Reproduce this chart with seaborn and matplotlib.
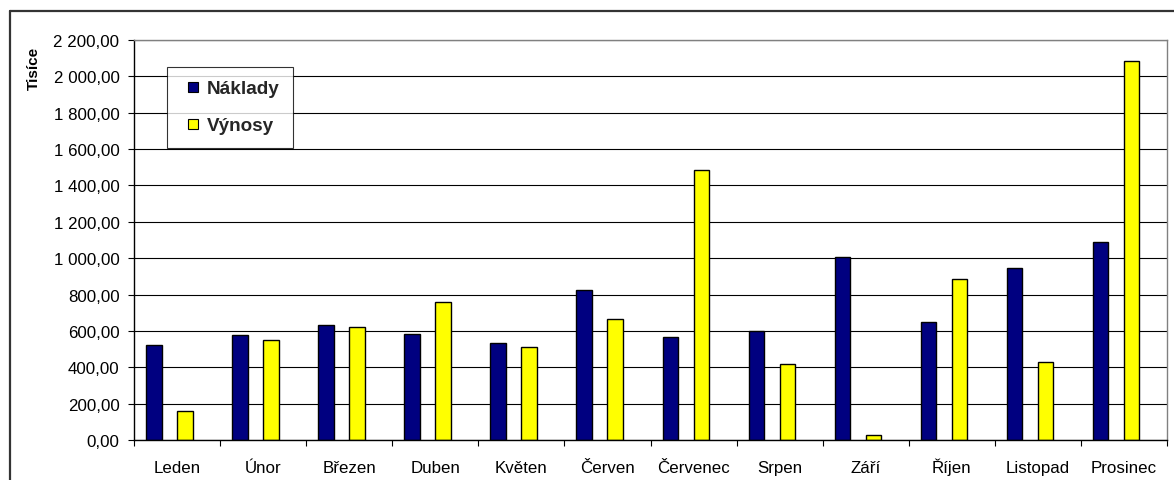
import matplotlib
matplotlib.use("Agg")
import matplotlib.pyplot as plt
from matplotlib.lines import Line2D
from matplotlib.ticker import FuncFormatter, FixedLocator, NullFormatter
import seaborn as sns
import pandas as pd
import numpy as np

months = ["Leden", "Únor", "Březen", "Duben", "Květen", "Červen",
          "Červenec", "Srpen", "Září", "Říjen", "Listopad", "Prosinec"]
naklady = [525, 577, 634, 582, 534, 825, 566, 602, 1009, 649, 947, 1091]
vynosy = [162, 551, 621, 761, 514, 665, 1486, 417, 30, 888, 431, 2085]
series_names = ["Náklady", "Výnosy"]
colors = {"Náklady": "#000080", "Výnosy": "#FFFF00"}
y_label = "Tisíce"
y_ticks = list(range(0, 2201, 200))

df = pd.DataFrame({
    "Měsíc": months * 2,
    "Řada": ["Náklady"] * len(months) + ["Výnosy"] * len(months),
    "Hodnota": naklady + vynosy,
})

sns.set_theme(style="white")
plt.rcParams["font.family"] = ["Liberation Sans", "DejaVu Sans"]

fig = plt.figure(figsize=(11.74, 4.81), dpi=100)
ax = fig.add_axes([134/1174, 1 - 441/481, (1167 - 134)/1174, 400/481])

# Two empty slots keep the spreadsheet-style bar placement (4 slots per category)
hue_order = ["Náklady", "_e1", "Výnosy", "_e2"]
pal = {"Náklady": colors["Náklady"], "_e1": "white", "Výnosy": colors["Výnosy"], "_e2": "white"}
sns.barplot(data=df, x="Měsíc", y="Hodnota", hue="Řada", order=months,
            hue_order=hue_order, palette=pal, width=0.72, gap=0, errorbar=None,
            edgecolor="black", linewidth=1.0, saturation=1, legend=False, ax=ax)

ax.set_ylim(0, 2200)
ax.set_xlim(-0.5, len(months) - 0.5)
ax.yaxis.set_major_locator(FixedLocator(y_ticks))
ax.yaxis.set_major_formatter(FuncFormatter(
    lambda v, p: f"{v:,.2f}".replace(",", " ").replace(".", ",")))
ax.grid(axis="y", color="black", linewidth=0.8)
ax.set_axisbelow(True)

# x ticks at category boundaries, labels at centres
ax.xaxis.set_major_locator(FixedLocator(np.arange(-0.5, len(months), 1.0)))
ax.xaxis.set_major_formatter(NullFormatter())
ax.xaxis.set_minor_locator(FixedLocator(np.arange(len(months))))
ax.set_xticklabels(months, minor=True)
ax.tick_params(axis="x", which="major", direction="out", length=4.5, width=0.8,
               color="black", bottom=True)
ax.tick_params(axis="x", which="minor", length=0, pad=23, labelsize=12.2,
               labelcolor="black")
for lbl in ax.get_xticklabels(minor=True):
    lbl.set_verticalalignment("baseline")
ax.tick_params(axis="y", which="major", direction="out", length=4.5, width=0.8,
               color="black", left=True, pad=6, labelsize=12.2, labelcolor="black")

ax.set_xlabel("")
ax.set_ylabel(y_label, fontsize=11, fontweight="bold", color="black")
ax.yaxis.set_label_coords(-0.09, 0.932)

for s in ["left", "bottom"]:
    ax.spines[s].set_color("black")
    ax.spines[s].set_linewidth(1.0)
for s in ["top", "right"]:
    ax.spines[s].set_visible(True)
    ax.spines[s].set_color("#808080")
    ax.spines[s].set_linewidth(1.0)

handles = [Line2D([], [], linestyle="none", marker="s", markersize=7.9,
                  markerfacecolor=colors[n], markeredgecolor="black",
                  markeredgewidth=0.8, label=n)
           for n in series_names]
leg = ax.legend(handles=handles, loc="upper left", bbox_to_anchor=(0.032, 0.9325),
                borderaxespad=0, frameon=True, fancybox=False, shadow=False,
                prop={"weight": "bold", "size": 13.6}, handlelength=1.3,
                handletextpad=0.1, labelspacing=1.05, borderpad=0.7)
leg.get_frame().set_edgecolor("black")
leg.get_frame().set_linewidth(0.8)

# outer chart frame (runs off the right and bottom edges)
fx, fy = 9.5/1174, 1 - 12/481
fig.add_artist(Line2D([fx, 1.01], [fy, fy], transform=fig.transFigure,
                      color="#333333", linewidth=1.6))
fig.add_artist(Line2D([fx, fx], [-0.01, fy], transform=fig.transFigure,
                      color="#333333", linewidth=1.6))

fig.savefig("out.png", dpi=100)
